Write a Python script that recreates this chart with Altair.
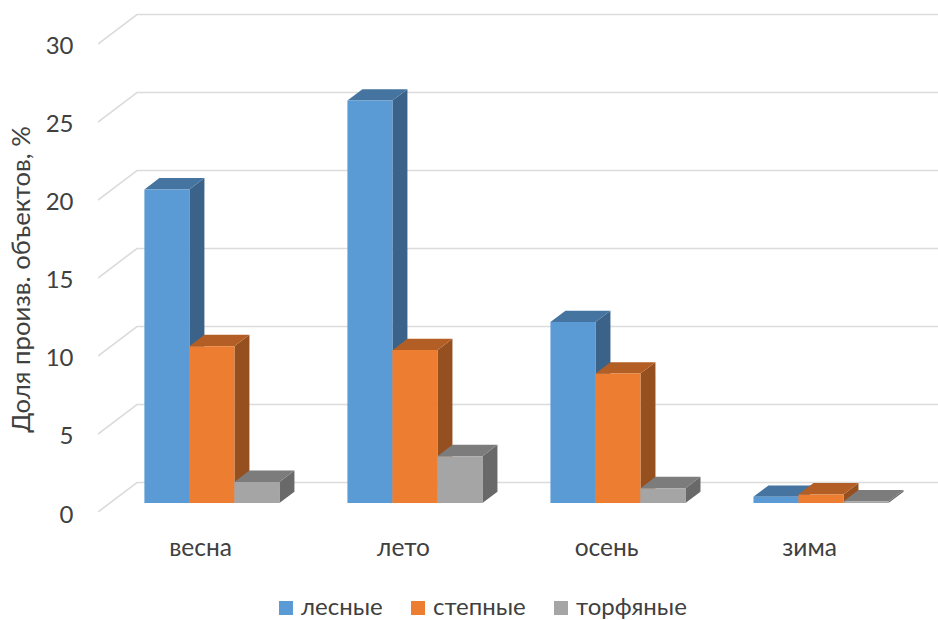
import altair as alt
import pandas as pd

# Season names and the share of objects per fire type, %
seasons = ["весна", "лето", "осень", "зима"]
series_names = ["лесные", "степные", "торфяные"]
forest = [20.1, 25.8, 11.6, 0.4]
steppe = [10.05, 9.8, 8.3, 0.55]
peat = [1.35, 3.0, 0.95, 0.1]
ticks = [0, 5, 10, 15, 20, 25, 30]

front_colors = ["#5B9BD5", "#ED7D31", "#A5A5A5"]
top_colors = ["#44749F", "#B25E25", "#7C7C7C"]
side_colors = ["#3B6389", "#965020", "#696969"]

TEXT = "#404040"
FONT = "Lato"
GRID = "#DCDCDC"

# Oblique projection: one unit of depth shifts a point right and up
DEPTH_X = 0.192          # category units per depth unit
DEPTH_Y = 1.89           # percent per depth unit
BAR_W = 0.2217           # category units
BAR_FRONT = 0.305        # depth of the front face of a bar
BAR_DEPTH = 0.385

X_DOMAIN = [-0.5025, 3.635]
Y_DOMAIN = [0, 32.82]

x_scale = alt.Scale(domain=X_DOMAIN, nice=False, zero=False)
y_scale = alt.Scale(domain=Y_DOMAIN, nice=False, zero=False)

x_axis = alt.Axis(
    title=None,
    values=[0, 1, 2, 3],
    labelExpr="['" + "','".join(seasons) + "'][round(datum.value)]",
    domain=False,
    ticks=False,
    grid=False,
    labelFont=FONT,
    labelFontSize=24.5,
    labelColor=TEXT,
    labelPadding=24,
)
y_axis = alt.Axis(
    title="Доля произв. объектов, %",
    values=ticks,
    domain=False,
    ticks=False,
    grid=False,
    labelFont=FONT,
    labelFontSize=24,
    labelColor=TEXT,
    labelPadding=25,
    labelOffset=3,
    titleFont=FONT,
    titleFontSize=25.7,
    titleFontWeight="normal",
    titleColor=TEXT,
    titleX=-64,
    titleY=279,
)


def project(x, v, depth):
    return x + depth * DEPTH_X, v + depth * DEPTH_Y


# Wall grid: a slanted piece along the side wall, then a line along the back wall
grid_rows = []
for t in ticks:
    bx, by = project(X_DOMAIN[0], t, 1)
    grid_rows += [
        {"tick": t, "x": X_DOMAIN[0], "y": t, "k": 0},
        {"tick": t, "x": bx, "y": by, "k": 1},
        {"tick": t, "x": X_DOMAIN[1], "y": by, "k": 2},
    ]
grid = (
    alt.Chart(pd.DataFrame(grid_rows))
    .mark_line(color=GRID, strokeWidth=1.7, clip=True)
    .encode(
        x=alt.X("x:Q", scale=x_scale, axis=x_axis),
        y=alt.Y("y:Q", scale=y_scale, axis=y_axis),
        detail="tick:N",
        order="k:Q",
    )
)


def bar_layers(values, s_idx):
    name = series_names[s_idx]
    fronts, sides, tops = [], [], []
    for g, v in enumerate(values):
        left = g + (s_idx - 1.5) * BAR_W
        right = left + BAR_W
        fx0, fy0 = project(left, 0, BAR_FRONT)
        fx1, fy1 = project(right, v, BAR_FRONT)
        bx1, by1 = project(right, v, BAR_FRONT + BAR_DEPTH)
        bx0, by0 = project(left, v, BAR_FRONT + BAR_DEPTH)
        _, by_floor = project(right, 0, BAR_FRONT + BAR_DEPTH)
        fronts.append({"x": fx0, "x2": fx1, "y": fy0, "y2": fy1, "series": name})
        sides += [
            {"g": g, "x": fx1, "y": fy0, "y2": fy1},
            {"g": g, "x": bx1, "y": by_floor, "y2": by1},
        ]
        tops += [
            {"g": g, "y": fy1, "x": fx0, "x2": fx1},
            {"g": g, "y": by1, "x": bx0, "x2": bx1},
        ]

    side = (
        alt.Chart(pd.DataFrame(sides))
        .mark_area(color=side_colors[s_idx])
        .encode(
            x=alt.X("x:Q", scale=x_scale, axis=x_axis),
            y=alt.Y("y:Q", scale=y_scale, axis=y_axis),
            y2="y2:Q",
            detail="g:N",
        )
    )
    top = (
        alt.Chart(pd.DataFrame(tops))
        .mark_area(color=top_colors[s_idx], orient="horizontal")
        .encode(
            y=alt.Y("y:Q", scale=y_scale, axis=y_axis),
            x=alt.X("x:Q", scale=x_scale, axis=x_axis),
            x2="x2:Q",
            detail="g:N",
        )
    )
    front = (
        alt.Chart(pd.DataFrame(fronts))
        .mark_rect()
        .encode(
            x=alt.X("x:Q", scale=x_scale, axis=x_axis),
            x2="x2:Q",
            y=alt.Y("y:Q", scale=y_scale, axis=y_axis),
            y2="y2:Q",
            color=alt.Color(
                "series:N",
                scale=alt.Scale(domain=series_names, range=front_colors),
                legend=alt.Legend(
                    title=None,
                    orient="none",
                    direction="horizontal",
                    legendX=176,
                    legendY=596,
                    symbolType="square",
                    symbolSize=196,
                    symbolStrokeWidth=0,
                    labelFont=FONT,
                    labelFontSize=24,
                    labelColor=TEXT,
                    columnPadding=23,
                    labelOffset=3,
                ),
            ),
        )
    )
    return [side, top, front]


layers = [grid]
for i, values in enumerate([forest, steppe, peat]):
    layers += bar_layers(values, i)

chart = (
    alt.layer(*layers)
    .properties(
        width=840,
        height=512,
        padding={"left": 98, "top": 0, "right": 0, "bottom": 108},
        autosize=alt.AutoSizeParams(type="none"),
        background="white",
    )
    .configure_view(stroke=None)
)

chart.save("out.html", embed_options={"renderer": "svg", "actions": False})
